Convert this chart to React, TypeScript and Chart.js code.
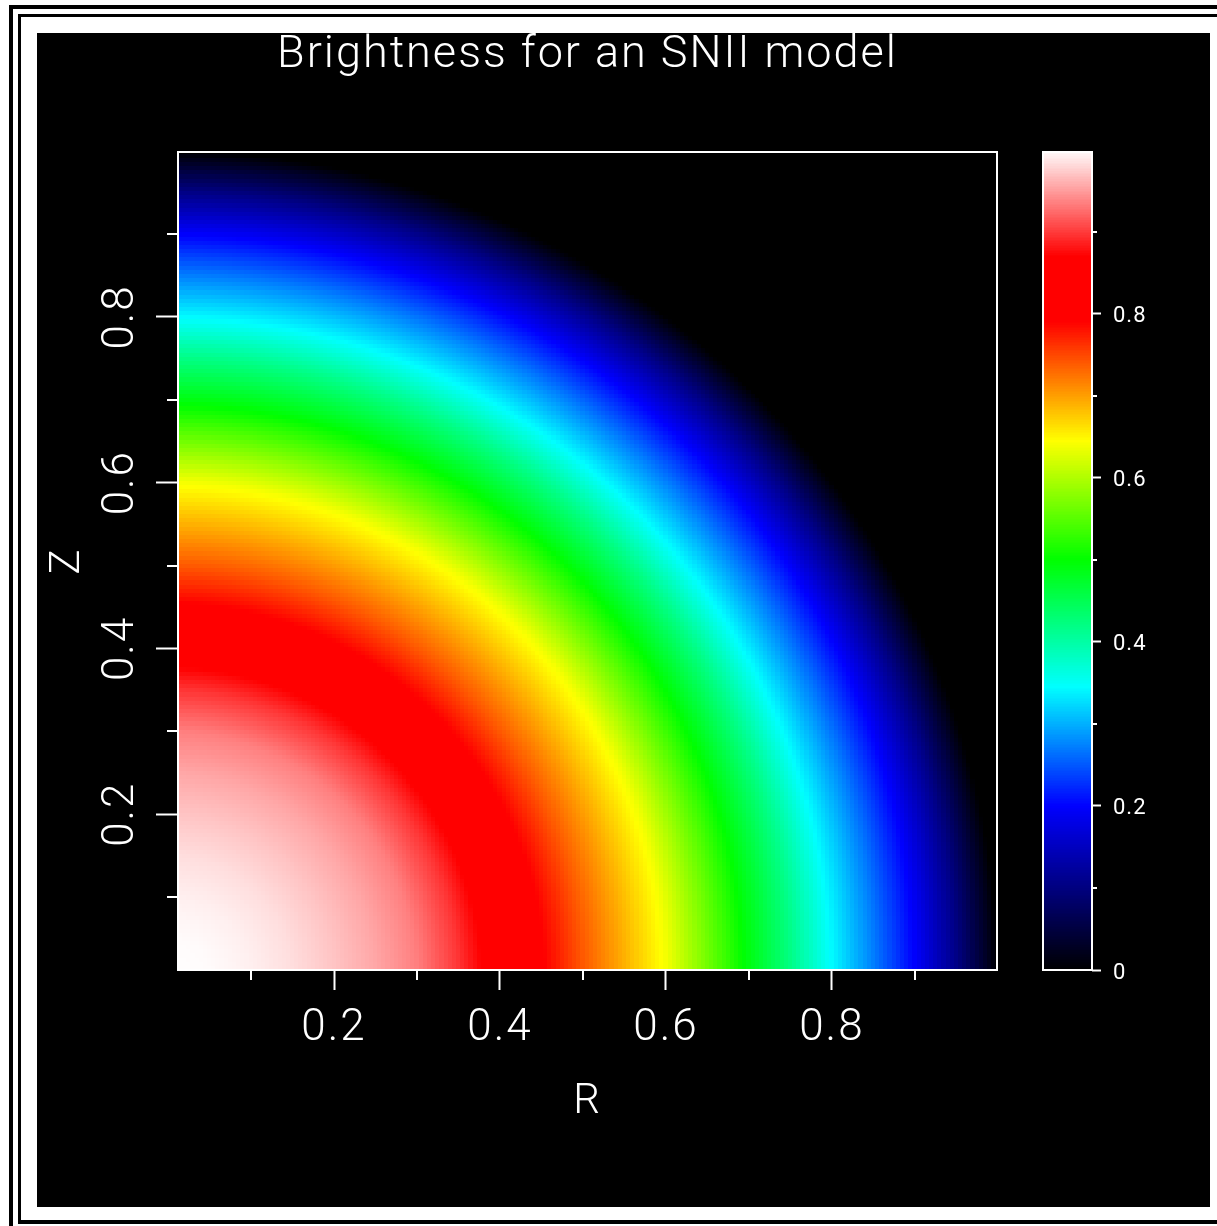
import React, { useEffect, useRef } from 'react';
import { Chart, registerables } from 'chart.js';

Chart.register(...registerables);

// ---------- text ----------
const TITLE = 'Brightness for an SNII model';
const X_TITLE = 'R';
const Y_TITLE = 'Z';

// ---------- axes ----------
const AXIS_MIN = 0.012;
const AXIS_MAX = 0.999;
const AXIS_STEP = 0.1;
const MAJOR_TICKS = [0.2, 0.4, 0.6, 0.8];

const CBAR_MIN = 0;
const CBAR_MAX = 0.997;
const CBAR_STEP_TICK = 0.1;
const CBAR_MAJOR = [0, 0.2, 0.4, 0.6, 0.8];

// ---------- data: radial brightness profile ----------
const PROFILE_R = [0, 0.05, 0.1, 0.15, 0.2, 0.25, 0.3, 0.35, 0.4, 0.45, 0.5, 0.55, 0.6, 0.65, 0.7, 0.75, 0.8, 0.85, 0.9, 0.95, 1.0];
const PROFILE_B = [1.0, 0.998, 0.992, 0.983, 0.97, 0.955, 0.935, 0.897, 0.847, 0.795, 0.74, 0.69, 0.64, 0.565, 0.49, 0.42, 0.343, 0.272, 0.198, 0.105, 0.0];

// ---------- colour table ----------
const CMAP_LEVEL = [0, 0.2, 0.345, 0.5, 0.645, 0.79, 0.87, 1.0];
const CMAP_RED = [0, 0, 0, 0, 255, 255, 255, 255];
const CMAP_GREEN = [0, 0, 255, 255, 255, 0, 0, 255];
const CMAP_BLUE = [0, 255, 255, 0, 0, 0, 0, 255];

const GRID_STEP = 0.005;
const CBAR_STEP = 0.002;

const FONT = 'Roboto';
const WEIGHT: any = 300;

function lerpTable(xs: number[], ys: number[], x: number) {
  if (x <= xs[0]) return ys[0];
  if (x >= xs[xs.length - 1]) return ys[ys.length - 1];
  let i = 1;
  while (xs[i] < x) i++;
  const t = (x - xs[i - 1]) / (xs[i] - xs[i - 1]);
  return ys[i - 1] + t * (ys[i] - ys[i - 1]);
}

function colorFor(v: number) {
  const r = Math.round(lerpTable(CMAP_LEVEL, CMAP_RED, v));
  const g = Math.round(lerpTable(CMAP_LEVEL, CMAP_GREEN, v));
  const b = Math.round(lerpTable(CMAP_LEVEL, CMAP_BLUE, v));
  return `rgb(${r},${g},${b})`;
}

function buildCells() {
  const cells: any[] = [];
  const n = Math.ceil((1 - AXIS_MIN) / GRID_STEP);
  for (let i = 0; i < n; i++) {
    for (let j = 0; j < n; j++) {
      const x = AXIS_MIN + (i + 0.5) * GRID_STEP;
      const y = AXIS_MIN + (j + 0.5) * GRID_STEP;
      cells.push({ x, y, v: lerpTable(PROFILE_R, PROFILE_B, Math.hypot(x, y)) });
    }
  }
  return cells;
}

function buildBar() {
  const levels: any[] = [];
  const n = Math.ceil((CBAR_MAX - CBAR_MIN) / CBAR_STEP);
  for (let i = 0; i < n; i++) {
    const v = CBAR_MIN + (i + 0.5) * CBAR_STEP;
    levels.push({ x: 0.5, y: v, v });
  }
  return levels;
}

const near = (a: number, list: number[]) => list.some((t) => Math.abs(t - a) < 1e-6);

const spacingPlugin = (px: string) => ({
  id: 'spacing',
  beforeDraw(chart: any) {
    try {
      (chart.ctx as any).letterSpacing = px;
    } catch (e) {
      /* ignore */
    }
  },
});

const heatmapPlugin = {
  id: 'heatmap',
  beforeDatasetsDraw(chart: any) {
    const { ctx, chartArea: a, scales } = chart;
    const xs = scales.x;
    const ys = scales.y;
    const data = chart.data.datasets[0].data;
    const h = GRID_STEP / 2;
    ctx.save();
    ctx.beginPath();
    ctx.rect(a.left, a.top, a.right - a.left, a.bottom - a.top);
    ctx.clip();
    for (const c of data) {
      const x0 = Math.round(xs.getPixelForValue(c.x - h));
      const x1 = Math.round(xs.getPixelForValue(c.x + h));
      const y0 = Math.round(ys.getPixelForValue(c.y + h));
      const y1 = Math.round(ys.getPixelForValue(c.y - h));
      ctx.fillStyle = colorFor(c.v);
      ctx.fillRect(x0, y0, x1 - x0, y1 - y0);
    }
    ctx.restore();
  },
  afterDraw(chart: any) {
    const { ctx, chartArea: a, scales } = chart;
    ctx.save();
    ctx.strokeStyle = 'white';
    ctx.lineWidth = 2;
    ctx.strokeRect(a.left, a.top, a.right - a.left, a.bottom - a.top);
    ctx.beginPath();
    for (const t of scales.x.ticks) {
      if (near(t.value, MAJOR_TICKS)) continue;
      const px = Math.round(scales.x.getPixelForValue(t.value));
      ctx.moveTo(px, a.bottom);
      ctx.lineTo(px, a.bottom + 10);
    }
    for (const t of scales.y.ticks) {
      if (near(t.value, MAJOR_TICKS)) continue;
      const py = Math.round(scales.y.getPixelForValue(t.value));
      ctx.moveTo(a.left, py);
      ctx.lineTo(a.left - 11, py);
    }
    ctx.stroke();
    ctx.restore();
  },
};

const colorbarPlugin = {
  id: 'colorbar',
  beforeDatasetsDraw(chart: any) {
    const { ctx, chartArea: a, scales } = chart;
    const ys = scales.y;
    const data = chart.data.datasets[0].data;
    const h = CBAR_STEP / 2;
    ctx.save();
    for (const c of data) {
      const y0 = Math.round(ys.getPixelForValue(c.y + h));
      const y1 = Math.round(ys.getPixelForValue(c.y - h));
      ctx.fillStyle = colorFor(c.v);
      ctx.fillRect(a.left, y0, a.right - a.left, y1 - y0);
    }
    ctx.restore();
  },
  afterDraw(chart: any) {
    const { ctx, chartArea: a, scales } = chart;
    ctx.save();
    ctx.strokeStyle = 'white';
    ctx.lineWidth = 2;
    ctx.strokeRect(a.left, a.top, a.right - a.left, a.bottom - a.top);
    ctx.beginPath();
    for (const t of scales.y.ticks) {
      if (near(t.value, CBAR_MAJOR)) continue;
      const py = Math.round(scales.y.getPixelForValue(t.value));
      ctx.moveTo(a.right, py);
      ctx.lineTo(a.right + 5, py);
    }
    ctx.stroke();
    ctx.restore();
  },
};

export default function App() {
  const mainRef = useRef<HTMLCanvasElement>(null);
  const barRef = useRef<HTMLCanvasElement>(null);

  useEffect(() => {
    const tickFont = { family: FONT, size: 44, weight: WEIGHT, lineHeight: 1.2 };
    const axisTitleFont = { family: FONT, size: 42, weight: WEIGHT, lineHeight: 1.2 };
    const main = new Chart(mainRef.current as HTMLCanvasElement, {
      type: 'scatter',
      data: {
        datasets: [
          {
            data: buildCells(),
            pointRadius: 0,
            pointHoverRadius: 0,
          } as any,
        ],
      },
      plugins: [spacingPlugin('2px'), heatmapPlugin],
      options: {
        animation: false,
        responsive: false,
        events: [],
        layout: { padding: { left: 0, right: 213, top: 0, bottom: 0 } },
        plugins: {
          legend: { display: false },
          tooltip: { enabled: false },
          title: {
            display: true,
            text: TITLE,
            color: 'white',
            fullSize: false,
            font: { family: FONT, size: 45, weight: WEIGHT, lineHeight: 1.0 },
            padding: { top: 0, bottom: 74 },
          },
        },
        scales: {
          x: {
            type: 'linear',
            position: 'bottom',
            min: AXIS_MIN,
            max: AXIS_MAX,
            afterFit: (s: any) => {
              s.height = 237;
            },
            border: { display: false },
            grid: {
              drawOnChartArea: false,
              drawTicks: true,
              tickLength: 20,
              tickWidth: 2,
              tickColor: (c: any) => (c.tick && near(c.tick.value, MAJOR_TICKS) ? 'white' : 'rgba(0,0,0,0)'),
            },
            ticks: {
              stepSize: AXIS_STEP,
              autoSkip: false,
              includeBounds: false,
              minRotation: 0,
              maxRotation: 0,
              padding: 13,
              color: 'white',
              font: tickFont,
              callback: (v: any) => (near(Number(v), MAJOR_TICKS) ? Number(v).toFixed(1) : ''),
            },
            title: {
              display: true,
              text: X_TITLE,
              color: 'white',
              font: axisTitleFont,
              padding: { top: 0, bottom: 79 },
            },
          } as any,
          y: {
            type: 'linear',
            position: 'left',
            min: AXIS_MIN,
            max: AXIS_MAX,
            afterFit: (s: any) => {
              s.width = 141;
            },
            border: { display: false },
            grid: {
              drawOnChartArea: false,
              drawTicks: true,
              tickLength: 22,
              tickWidth: 2,
              tickColor: (c: any) => (c.tick && near(c.tick.value, MAJOR_TICKS) ? 'white' : 'rgba(0,0,0,0)'),
            },
            ticks: {
              stepSize: AXIS_STEP,
              autoSkip: false,
              includeBounds: false,
              minRotation: 90,
              maxRotation: 90,
              crossAlign: 'center',
              padding: 4,
              color: 'white',
              font: tickFont,
              callback: (v: any) => (near(Number(v), MAJOR_TICKS) ? Number(v).toFixed(1) : ''),
            },
            title: {
              display: true,
              text: Y_TITLE,
              color: 'white',
              font: axisTitleFont,
              padding: { top: 6, bottom: 0 },
            },
          } as any,
        },
      } as any,
    });

    const bar = new Chart(barRef.current as HTMLCanvasElement, {
      type: 'scatter',
      data: {
        datasets: [
          {
            data: buildBar(),
            pointRadius: 0,
            pointHoverRadius: 0,
          } as any,
        ],
      },
      plugins: [spacingPlugin('1px'), colorbarPlugin],
      options: {
        animation: false,
        responsive: false,
        events: [],
        layout: { padding: { left: 43, right: 0, top: 119, bottom: 237 } },
        plugins: {
          legend: { display: false },
          tooltip: { enabled: false },
          title: { display: false },
        },
        scales: {
          x: { type: 'linear', min: 0, max: 1, display: false },
          y: {
            type: 'linear',
            position: 'right',
            min: CBAR_MIN,
            max: CBAR_MAX,
            afterFit: (s: any) => {
              s.width = 118;
            },
            border: { display: false },
            grid: {
              drawOnChartArea: false,
              drawTicks: true,
              tickLength: 9,
              tickWidth: 2,
              tickColor: (c: any) => (c.tick && near(c.tick.value, CBAR_MAJOR) ? 'white' : 'rgba(0,0,0,0)'),
            },
            ticks: {
              stepSize: CBAR_STEP_TICK,
              autoSkip: false,
              includeBounds: false,
              padding: 12,
              labelOffset: 3,
              color: 'white',
              font: { family: FONT, size: 22, weight: 400, lineHeight: 1.2 },
              callback: (v: any) => {
                const n = Number(v);
                if (!near(n, CBAR_MAJOR)) return '';
                return Math.abs(n) < 1e-9 ? '0' : n.toFixed(1);
              },
            },
          } as any,
        },
      } as any,
    });

    return () => {
      main.destroy();
      bar.destroy();
    };
  }, []);

  return (
    <div
      style={{
        position: 'absolute',
        left: 0,
        top: 0,
        width: 1217,
        height: 1226,
        overflow: 'hidden',
        background: 'white',
      }}
    >
      <div
        style={{
          position: 'absolute',
          left: 9,
          top: 5,
          width: 1400,
          height: 1400,
          borderLeft: '4px solid black',
          borderTop: '4px solid black',
        }}
      />
      <div
        style={{
          position: 'absolute',
          left: 18,
          top: 14,
          width: 1400,
          height: 1203,
          borderLeft: '3px solid black',
          borderTop: '3px solid black',
          borderBottom: '4px solid black',
        }}
      />
      <canvas
        ref={mainRef}
        width={1173}
        height={1174}
        style={{ position: 'absolute', left: 37, top: 33, background: 'black' }}
      />
      <canvas
        ref={barRef}
        width={210}
        height={1174}
        style={{ position: 'absolute', left: 1000, top: 33 }}
      />
    </div>
  );
}
